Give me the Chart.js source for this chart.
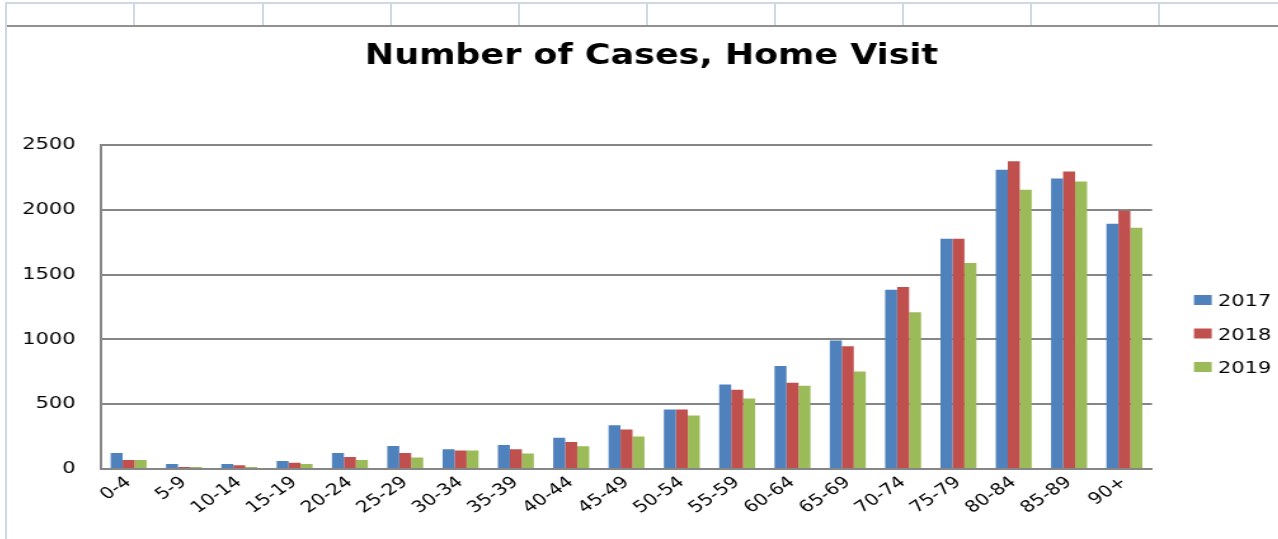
<!DOCTYPE html>
<html>
<head>
<meta charset="utf-8">
<title>Number of Cases, Home Visit</title>
<script src="https://cdn.jsdelivr.net/npm/chart.js@4.4.0/dist/chart.umd.min.js"></script>
<style>
  html, body { margin: 0; padding: 0; background: #fff; overflow: hidden; width: 1278px; height: 539px; }
  .line { position: absolute; }
  /* the original picture is stretched sideways, so the canvas is too */
  #wrap { position: absolute; left: 7px; top: 27px; width: 1015px; height: 512px; transform: scaleX(1.27); transform-origin: 0 0; }
</style>
</head>
<body>
<div id="wrap"><canvas id="myChart" width="1015" height="512"></canvas></div>
<script>
var ageGroups = ['0-4', '5-9', '10-14', '15-19', '20-24', '25-29', '30-34', '35-39', '40-44', '45-49',
                 '50-54', '55-59', '60-64', '65-69', '70-74', '75-79', '80-84', '85-89', '90+'];
var cases2017 = [123, 39, 39, 62, 123, 177, 152, 186, 242, 338, 459, 652, 794, 992, 1384, 1776, 2309, 2242, 1892];
var cases2018 = [69, 15, 28, 49, 93, 123, 142, 152, 209, 304, 459, 611, 665, 948, 1405, 1776, 2374, 2296, 1992];
var cases2019 = [69, 15, 15, 39, 69, 88, 142, 119, 175, 250, 412, 544, 642, 753, 1209, 1590, 2155, 2219, 1861];
var yTicks = [0, 500, 1000, 1500, 2000, 2500];

// spreadsheet cell borders around the chart
function addLine(left, top, width, height, color) {
    var d = document.createElement('div');
    d.className = 'line';
    d.style.left = left + 'px';
    d.style.top = top + 'px';
    d.style.width = width + 'px';
    d.style.height = height + 'px';
    d.style.background = color;
    document.body.appendChild(d);
}
addLine(5, 2, 1273, 2, '#d0d7e5');
addLine(5, 2, 2, 537, '#d0d7e5');
[133, 262, 390, 518, 646, 774, 902, 1030, 1158].forEach(function (x) {
    addLine(x, 2, 2, 23, '#d0d7e5');
});
addLine(7, 25, 1271, 2, '#919191');

var font = 'DejaVu Sans';

// legend drawn by hand so it sits where the original one does
var sideLegend = {
    id: 'sideLegend',
    afterDraw: function (chart) {
        var c = chart.ctx;
        var x = chart.chartArea.right + 33;
        c.save();
        c.font = '16.5px "' + font + '"';
        c.textBaseline = 'alphabetic';
        chart.data.datasets.forEach(function (ds, i) {
            var y = 273 + i * 33.5;
            c.fillStyle = ds.backgroundColor;
            c.fillRect(x, y - 5, 14, 10);
            c.fillStyle = '#000';
            c.fillText(ds.label, x + 19, y + 6);
        });
        c.restore();
    }
};

var ctx = document.getElementById('myChart').getContext('2d');
var myChart = new Chart(ctx, {
    type: 'bar',
    data: {
        labels: ageGroups,
        datasets: [{
            label: '2017',
            data: cases2017,
            backgroundColor: '#4F81BD'
        }, {
            label: '2018',
            data: cases2018,
            backgroundColor: '#C0504D'
        }, {
            label: '2019',
            data: cases2019,
            backgroundColor: '#9BBB59'
        }]
    },
    options: {
        responsive: false,
        animation: false,
        devicePixelRatio: 1,
        datasets: {
            bar: { categoryPercentage: 0.65, barPercentage: 1 }
        },
        plugins: {
            legend: { display: false },
            tooltip: { enabled: false },
            title: {
                display: true,
                text: 'Number of Cases, Home Visit',
                color: '#000',
                font: { family: font, size: 27.5, weight: 'bold' },
                padding: { top: 13, bottom: 72 }
            }
        },
        scales: {
            x: {
                grid: { display: false },
                border: { color: '#868686', width: 2 },
                ticks: {
                    color: '#000',
                    font: { family: font, size: 16 },
                    minRotation: 40,
                    maxRotation: 40,
                    autoSkip: false,
                    padding: -4
                },
                afterFit: function (s) { s.height = 70; }
            },
            y: {
                min: 0,
                max: 2500,
                afterBuildTicks: function (s) {
                    s.ticks = yTicks.map(function (v) { return { value: v }; });
                },
                ticks: {
                    color: '#000',
                    font: { family: font, size: 16.5 },
                    padding: 20,
                    callback: function (v) { return String(v); }
                },
                grid: { color: '#868686', lineWidth: 2, drawTicks: false },
                border: { color: '#868686', width: 2 },
                afterFit: function (s) { s.width = 74; }
            },
            // empty axis on the right keeps room for the legend
            yRight: {
                type: 'linear',
                position: 'right',
                grid: { display: false },
                border: { display: false },
                ticks: { display: false },
                afterFit: function (s) { s.width = 113.4; }
            }
        }
    },
    plugins: [sideLegend]
});
</script>
</body>
</html>
